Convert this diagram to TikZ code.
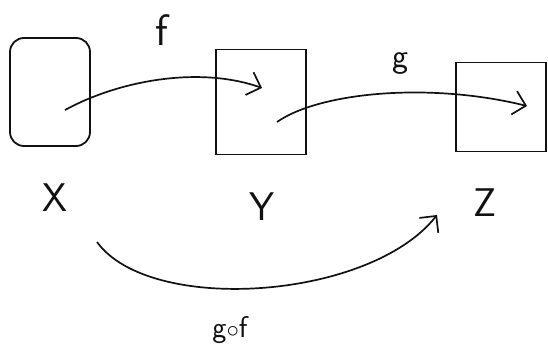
\documentclass[tikz,border=0pt]{standalone}
\usepackage{tikz}
\usepackage{amsmath}
\usetikzlibrary{arrows.meta,positioning,calc}
\definecolor{INK}{HTML}{111111}

\begin{document}
\begin{tikzpicture}[x=1pt,y=-1pt,
    setbox/.style={draw=INK, line width=1.8pt, inner sep=0pt},
    setname/.style={font=\fontsize{40}{40}\selectfont\sffamily, text=INK},
    maplabel/.style={font=\fontsize{34}{34}\selectfont\sffamily, text=INK},
    maparrow/.style={draw=INK, line width=1.7pt,
      -{Straight Barb[length=12pt,width=24pt,line width=1.7pt]}}]
    \useasboundingbox (0,0) rectangle (548,358);
    % the three sets
    \node[setbox, rounded corners=14pt, minimum width=80pt, minimum height=108pt] (X) at (50,92) {};
    \node[setbox, minimum width=90pt, minimum height=105pt] (Y) at (261,102) {};
    \node[setbox, minimum width=90pt, minimum height=89pt] (Z) at (501,107) {};
    \node[setname] (lblX) at (55,198) {X};
    \node[setname] (lblY) at (262,207) {Y};
    \node[setname] (lblZ) at (485,203) {Z};
    % maps
    \coordinate (fs) at (65,110);
    \coordinate (fe) at (262,88);
    \coordinate (gs) at (277,122);
    \coordinate (ge) at (527,106);
    \coordinate (hs) at (97,242);
    \coordinate (he) at (437,215);
    \draw[maparrow] (fs) .. controls (120,80) and (200,66) .. (fe);
    \draw[maparrow] (gs) .. controls (320,92) and (430,82) .. (ge);
    \draw[maparrow] (hs) .. controls (150,315) and (370,300) .. (he);
    \node[maplabel, font=\fontsize{44}{44}\selectfont\sffamily] (lblf) at (162,30) {f};
    \node[maplabel] (lblg) at (400,64) {g};
    \node[maplabel, font=\fontsize{30}{30}\selectfont\sffamily] (lblgf) at (230,330) {g$\circ$f};
\end{tikzpicture}
\end{document}
